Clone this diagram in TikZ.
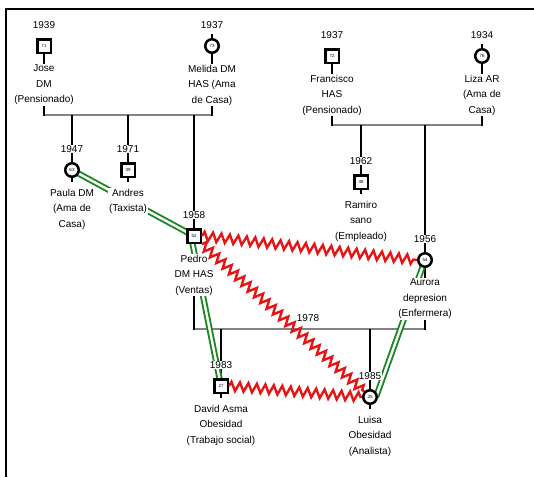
\documentclass[tikz,border=0pt]{standalone}
\usepackage{fontspec}
\setmainfont{Liberation Sans}
\usetikzlibrary{decorations.pathmorphing}
\pgfdeclarelayer{bg}
\pgfsetlayers{bg,main}
\definecolor{emgreen}{RGB}{25,135,35}
\definecolor{emred}{RGB}{230,20,20}
\definecolor{mline}{RGB}{130,130,130}
\tikzset{
  male/.style={draw, line width=2.5pt, minimum size=13.5pt, inner sep=0pt, fill=white, font=\fontsize{4.5}{5}\selectfont},
  female/.style={draw, circle, line width=2.5pt, minimum size=13.5pt, inner sep=0pt, fill=white, font=\fontsize{4.5}{5}\selectfont},
  yearlbl/.style={fill=white, inner sep=0.8pt, anchor=base, font=\fontsize{10}{12}\selectfont},
  namelbl/.style={fill=white, inner sep=0.8pt, anchor=north, align=center, font=\fontsize{10}{15.5}\selectfont},
  kin/.style={line width=2pt, black},
  marr/.style={line width=2pt, mline},
  friendlink/.style={draw=emgreen, double=white, line width=1.9pt, double distance=2.4pt},
  hostilelink/.style={emred, line width=2.4pt, decorate, decoration={zigzag, segment length=8.5pt, amplitude=4.5pt}},
}
\begin{document}
\begin{tikzpicture}[x=1pt,y=-1pt]
\useasboundingbox (0,0) rectangle (534,477);
% frame
\draw[line width=2.2pt] (6,477) -- (6,9) -- (534,9);

% symbols
\node[male]   (jose)      at (44,46)   {71};
\node[female] (melida)    at (212,46)  {73};
\node[male]   (francisco) at (332,56)  {72};
\node[female] (liza)      at (482,56)  {76};
\node[female] (paula)     at (72,170)  {63};
\node[male]   (andres)    at (128,170) {39};
\node[male]   (pedro)     at (194,236) {52};
\node[male]   (ramiro)    at (361,182) {48};
\node[female] (aurora)    at (425,260) {54};
\node[male]   (david)     at (221,386) {27};
\node[female] (luisa)     at (370,397) {25};

% lines on background layer
\begin{pgfonlayer}{bg}
  % symbol stubs
  \foreach \p in {melida,liza,paula,aurora,luisa}
    \draw[kin] ([yshift=4pt]\p.north) -- ([yshift=-4pt]\p.south);
  \foreach \p in {jose,francisco,andres,pedro,ramiro,david}
    \draw[kin] (\p.center) -- ([yshift=-4pt]\p.south);
  % marriage 1
  \draw[marr] (jose |- 0,115) -- (melida |- 0,115);
  \draw[kin] (jose) -- (jose |- 0,116);
  \draw[kin] (melida) -- (melida |- 0,116);
  \draw[kin] (paula) -- (paula |- 0,115);
  \draw[kin] (andres) -- (andres |- 0,115);
  \draw[kin] (pedro) -- (pedro |- 0,115);
  % marriage 2
  \draw[marr] (francisco |- 0,125) -- (liza |- 0,125);
  \draw[kin] (francisco) -- (francisco |- 0,126);
  \draw[kin] (liza) -- (liza |- 0,126);
  \draw[kin] (ramiro) -- (ramiro |- 0,125);
  \draw[kin] (aurora) -- (aurora |- 0,125);
  % marriage 3
  \draw[marr] (pedro |- 0,329) -- (aurora |- 0,329);
  \draw[kin] (pedro) -- (pedro |- 0,330);
  \draw[kin] (aurora) -- (aurora |- 0,330);
  \draw[kin] (david) -- (david |- 0,329);
  \draw[kin] (luisa) -- (luisa |- 0,329);
  % close relations
  \draw[friendlink] (paula.center) -- (pedro.center);
  \draw[friendlink] ([xshift=-3pt]pedro.center) -- (david.center);
  \draw[friendlink] (aurora.center) -- ([xshift=6pt]luisa.center);
\end{pgfonlayer}

% years
\node[yearlbl] (jose-y)      at (44,28.5)   {1939};
\node[yearlbl] (melida-y)    at (212,28.5)  {1937};
\node[yearlbl] (francisco-y) at (332,38.5)  {1937};
\node[yearlbl] (liza-y)      at (482,38.5)  {1934};
\node[yearlbl] (paula-y)     at (72,152.5)  {1947};
\node[yearlbl] (andres-y)    at (128,152.5) {1971};
\node[yearlbl] (pedro-y)     at (194,218.5) {1958};
\node[yearlbl] (ramiro-y)    at (361,164.5) {1962};
\node[yearlbl] (aurora-y)    at (425,242.5) {1956};
\node[yearlbl] (david-y)     at (221,368.5) {1983};
\node[yearlbl] (luisa-y)     at (370,379.5) {1985};
\node[yearlbl] (m3-y)        at (308,321)   {1978};

% names
\node[namelbl] (jose-n)      at (44,64)   {Jose\\DM\\(Pensionado)};
\node[namelbl] (melida-n)    at (212,64)  {Melida DM\\HAS (Ama\\de Casa)};
\node[namelbl] (francisco-n) at (332,74)  {Francisco\\HAS\\(Pensionado)};
\node[namelbl] (liza-n)      at (482,74)  {Liza AR\\(Ama de\\Casa)};
\node[namelbl] (paula-n)     at (72,188)  {Paula DM\\(Ama de\\Casa)};
\node[namelbl] (andres-n)    at (128,188) {Andres\\(Taxista)};
\node[namelbl] (pedro-n)     at (194,254) {Pedro\\DM HAS\\(Ventas)};
\node[namelbl] (ramiro-n)    at (361,200) {Ramiro\\sano\\(Empleado)};
\node[namelbl] (aurora-n)    at (425,278) {Aurora\\depresion\\(Enfermera)};
\node[namelbl] (david-n)     at (221,404) {David Asma\\Obesidad\\(Trabajo social)};
\node[namelbl] (luisa-n)     at (370,415) {Luisa\\Obesidad\\(Analista)};

% hostile relations
\draw[hostilelink] (pedro.east) -- (aurora.west);
\draw[hostilelink] (pedro.south east) -- (luisa);
\draw[hostilelink] (david.east) -- (luisa.west);
\end{tikzpicture}
\end{document}
